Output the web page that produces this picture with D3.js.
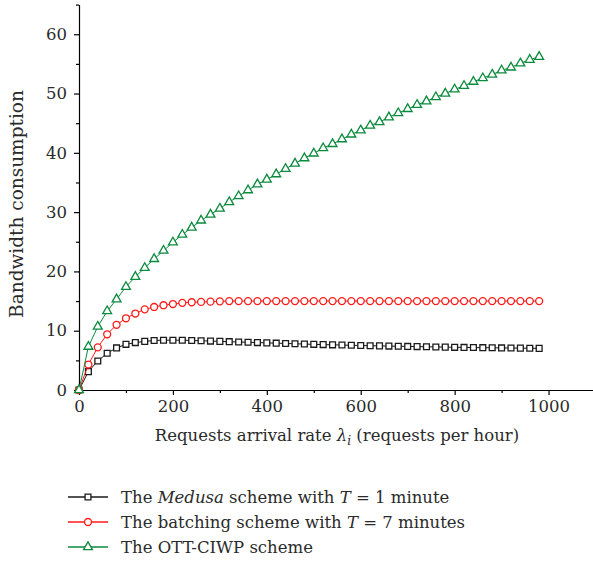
<!DOCTYPE html>
<html>
<head>
<meta charset="utf-8">
<script src="https://cdn.jsdelivr.net/npm/d3@7"></script>
<style>
    body { margin: 0; background: #fff; }
    svg { display: block; }
    text { font-family: 'DejaVu Serif', 'Liberation Serif', serif; fill: #2a2a2a; }
</style>
</head>
<body>
<svg id="chart" width="593" height="561"></svg>
<script>
/*jslint browser: true*/
/*global d3*/

// request rates, one point every 20 requests per hour
var rates = d3.range(0, 1000, 20);

var medusa = [0, 3.1, 4.9, 6.2, 7.1, 7.7, 8.0, 8.2, 8.35, 8.4,
    8.4, 8.4, 8.35, 8.3, 8.25, 8.2, 8.15, 8.1, 8.05, 8.0,
    7.95, 7.9, 7.85, 7.8, 7.75, 7.7, 7.66, 7.62, 7.58, 7.54,
    7.5, 7.47, 7.44, 7.41, 7.38, 7.35, 7.32, 7.29, 7.26, 7.23,
    7.2, 7.18, 7.16, 7.14, 7.12, 7.1, 7.08, 7.06, 7.04, 7.02];

var batching = [0, 4.3, 7.2, 9.4, 11.0, 12.1, 12.9, 13.6, 14.0, 14.3,
    14.5, 14.7, 14.8, 14.85, 14.9, 14.95, 15.0, 15.0, 15.0, 15.0,
    15.0, 15.0, 15.0, 15.0, 15.0, 15.0, 15.0, 15.0, 15.0, 15.0,
    15.0, 15.0, 15.0, 15.0, 15.0, 15.0, 15.0, 15.0, 15.0, 15.0,
    15.0, 15.0, 15.0, 15.0, 15.0, 15.0, 15.0, 15.0, 15.0, 15.0];

var ottciwp = [0, 7.3, 10.7, 13.3, 15.3, 17.4, 19.1, 20.6, 22.1, 23.5,
    24.9, 26.2, 27.4, 28.6, 29.6, 30.6, 31.7, 32.7, 33.7, 34.7,
    35.5, 36.4, 37.3, 38.2, 39.1, 39.9, 40.8, 41.5, 42.3, 43.1,
    43.8, 44.6, 45.2, 46.0, 46.7, 47.4, 48.1, 48.7, 49.4, 50.0,
    50.7, 51.3, 52.0, 52.6, 53.2, 53.9, 54.4, 55.1, 55.7, 56.2];

var xTicks = [0, 200, 400, 600, 800, 1000];
var xMinorTicks = [100, 300, 500, 700, 900];
var yTicks = [0, 10, 20, 30, 40, 50, 60];
var yMinorTicks = [5, 15, 25, 35, 45, 55, 65];

(function (d3) {
    'use strict';

    var svg = d3.select('#chart'),
        x = d3.scaleLinear().domain([0, 1100]).range([79, 595.5]),
        y = d3.scaleLinear().domain([0, 65]).range([390, 4.6]),
        series,
        legend,
        line;

    series = [
        {name: 'medusa', values: medusa, color: '#1a1a1a', shape: d3.symbolSquare, size: 34},
        {name: 'batching', values: batching, color: '#ff1a1a', shape: d3.symbolCircle, size: 38},
        {name: 'ottciwp', values: ottciwp, color: '#0a8a3c', shape: d3.symbolTriangle, size: 34}
    ];

    // axes
    svg.append('g')
        .attr('class', 'x-minor')
        .attr('transform', 'translate(0,' + y(0) + ')')
        .call(d3.axisBottom(x).tickValues(xMinorTicks).tickSize(3).tickFormat(''))
        .call(function (g) { g.select('.domain').remove(); });

    svg.append('g')
        .attr('class', 'x-axis')
        .attr('transform', 'translate(0,' + y(0) + ')')
        .call(d3.axisBottom(x).tickValues(xTicks).tickSize(5).tickSizeOuter(0)
            .tickPadding(5).tickFormat(d3.format('d')));

    svg.append('g')
        .attr('class', 'y-minor')
        .attr('transform', 'translate(' + x(0) + ',0)')
        .call(d3.axisLeft(y).tickValues(yMinorTicks).tickSize(3).tickFormat(''))
        .call(function (g) { g.select('.domain').remove(); });

    svg.append('g')
        .attr('class', 'y-axis')
        .attr('transform', 'translate(' + x(0) + ',0)')
        .call(d3.axisLeft(y).tickValues(yTicks).tickSize(5).tickSizeOuter(0).tickPadding(7));

    svg.selectAll('.x-axis text, .y-axis text').attr('font-size', 16.5);
    svg.selectAll('.domain, .tick line').attr('stroke', '#000').attr('stroke-width', 1.2);

    // axis titles
    svg.append('text')
        .attr('transform', 'translate(23,' + 204 + ') rotate(-90)')
        .attr('text-anchor', 'middle')
        .attr('font-size', 18.5)
        .text('Bandwidth consumption');

    var xLabel = svg.append('text')
        .attr('x', 337)
        .attr('y', 441)
        .attr('text-anchor', 'middle')
        .attr('font-size', 16.5);
    xLabel.append('tspan').text('Requests arrival rate ');
    xLabel.append('tspan').attr('font-style', 'italic').text('λ');
    xLabel.append('tspan').attr('font-style', 'italic').attr('font-size', 12).attr('dy', 4).text('i');
    xLabel.append('tspan').attr('dy', -4).text(' (requests per hour)');

    // series
    line = d3.line()
        .x(function (d, i) { return x(rates[i]); })
        .y(function (d) { return y(d); });

    series.forEach(function (s) {
        var g = svg.append('g').attr('class', 'series ' + s.name);
        g.append('path')
            .attr('d', line(s.values))
            .attr('fill', 'none')
            .attr('stroke', s.color)
            .attr('stroke-width', 1);
        g.selectAll('path.marker')
            .data(s.values)
            .enter()
            .append('path')
            .attr('class', 'marker')
            .attr('transform', function (d, i) {
                return 'translate(' + x(rates[i]) + ',' + y(d) + ')';
            })
            .attr('d', d3.symbol().type(s.shape).size(s.size))
            .attr('fill', '#fff')
            .attr('stroke', s.color)
            .attr('stroke-width', 1.3);
    });

    // legend
    legend = svg.append('g').attr('class', 'legend');
    var rows = [
        [{t: 'The '}, {t: 'Medusa', i: true}, {t: ' scheme with '}, {t: 'T', i: true}, {t: ' = 1 minute'}],
        [{t: 'The batching scheme with '}, {t: 'T', i: true}, {t: ' = 7 minutes'}],
        [{t: 'The OTT-CIWP scheme'}]
    ];

    series.forEach(function (s, k) {
        var cy = 497 + k * 25,
            row = legend.append('g'),
            label;
        row.append('line')
            .attr('x1', 68).attr('x2', 108)
            .attr('y1', cy).attr('y2', cy)
            .attr('stroke', s.color)
            .attr('stroke-width', 1.3);
        row.append('path')
            .attr('transform', 'translate(88,' + cy + ')')
            .attr('d', d3.symbol().type(s.shape).size(s.size))
            .attr('fill', '#fff')
            .attr('stroke', s.color)
            .attr('stroke-width', 1.3);
        label = row.append('text')
            .attr('x', 121)
            .attr('y', cy + 6)
            .attr('font-size', 16.5);
        rows[k].forEach(function (p) {
            label.append('tspan')
                .attr('font-style', p.i ? 'italic' : null)
                .text(p.t);
        });
    });

}(window.d3));
</script>
</body>
</html>
